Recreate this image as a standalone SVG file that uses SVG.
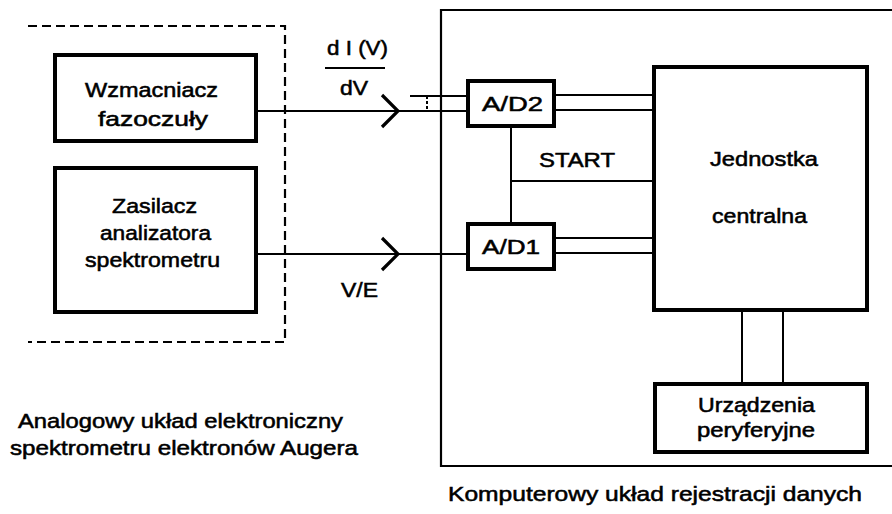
<svg xmlns="http://www.w3.org/2000/svg" width="892" height="514" viewBox="0 0 892 514">
<style>
  text { font-family: "Liberation Sans", Arial, sans-serif; font-size: 21px; fill: #000; stroke: #000; stroke-width: 0.55; }
  .box { fill: none; stroke: #000; stroke-width: 4; }
  .frame { fill: none; stroke: #000; stroke-width: 2.2; }
  .dash { fill: none; stroke: #000; stroke-width: 2.2; stroke-dasharray: 9 5; }
  .wire { fill: none; stroke: #000; stroke-width: 2; }
  .chev { fill: none; stroke: #000; stroke-width: 3.2; stroke-linejoin: miter; }
</style>
<rect width="892" height="514" fill="#fff"/>

<g id="analog-frame">
  <path class="dash" d="M28,26 H285 V342 H28"/>
  <text x="18" y="428" textLength="325" lengthAdjust="spacingAndGlyphs">Analogowy układ elektroniczny</text>
  <text x="10" y="455" textLength="348" lengthAdjust="spacingAndGlyphs">spektrometru elektronów Augera</text>
</g>

<g id="computer-frame">
  <path class="frame" d="M892,10 H441 V466 H892"/>
  <text x="448" y="501" textLength="414" lengthAdjust="spacingAndGlyphs">Komputerowy układ rejestracji danych</text>
</g>

<g id="wzmacniacz">
  <rect class="box" x="55" y="55" width="201" height="86"/>
  <text x="85" y="97" textLength="133" lengthAdjust="spacingAndGlyphs">Wzmacniacz</text>
  <text x="98" y="126" textLength="110" lengthAdjust="spacingAndGlyphs">fazoczuły</text>
</g>

<g id="zasilacz">
  <rect class="box" x="55" y="168" width="201" height="144"/>
  <text x="112" y="213" textLength="85" lengthAdjust="spacingAndGlyphs">Zasilacz</text>
  <text x="100" y="240" textLength="111" lengthAdjust="spacingAndGlyphs">analizatora</text>
  <text x="85" y="267" textLength="135" lengthAdjust="spacingAndGlyphs">spektrometru</text>
</g>

<g id="ad2">
  <rect class="box" x="468" y="81" width="86" height="45"/>
  <text x="482" y="111" textLength="61" lengthAdjust="spacingAndGlyphs">A/D2</text>
</g>

<g id="ad1">
  <rect class="box" x="468" y="224" width="86" height="45"/>
  <text x="482" y="254" textLength="58" lengthAdjust="spacingAndGlyphs">A/D1</text>
</g>

<g id="jednostka">
  <rect class="box" x="654" y="67" width="213" height="243"/>
  <text x="710" y="166" textLength="108" lengthAdjust="spacingAndGlyphs">Jednostka</text>
  <text x="712" y="223" textLength="95" lengthAdjust="spacingAndGlyphs">centralna</text>
</g>

<g id="urzadzenia">
  <rect class="box" x="655" y="384" width="212" height="68"/>
  <text x="698" y="412" textLength="117" lengthAdjust="spacingAndGlyphs">Urządzenia</text>
  <text x="697" y="437" textLength="118" lengthAdjust="spacingAndGlyphs">peryferyjne</text>
</g>

<g id="connectors">
  <line class="wire" x1="257" y1="111" x2="468" y2="111"/>
  <line class="wire" x1="410" y1="96" x2="468" y2="96"/>
  <line class="wire" x1="427" y1="96" x2="427" y2="111" stroke-dasharray="3 2" stroke-width="1.5"/>
  <path class="chev" d="M382,95 L398,111 L382,127"/>
  <line class="wire" x1="257" y1="254" x2="468" y2="254"/>
  <path class="chev" d="M382,238 L398,254 L382,270"/>
  <line class="wire" x1="554" y1="95" x2="654" y2="95"/>
  <line class="wire" x1="554" y1="110" x2="654" y2="110"/>
  <line class="wire" x1="554" y1="238" x2="654" y2="238"/>
  <line class="wire" x1="554" y1="253" x2="654" y2="253"/>
  <line class="wire" x1="511" y1="126" x2="511" y2="224"/>
  <line class="wire" x1="511" y1="181" x2="654" y2="181"/>
  <line class="wire" x1="742" y1="310" x2="742" y2="384"/>
  <line class="wire" x1="783" y1="310" x2="783" y2="384"/>
  <line class="wire" x1="325" y1="68" x2="385" y2="68"/>
  <text x="327" y="55" textLength="61" lengthAdjust="spacingAndGlyphs">d I (V)</text>
  <text x="340" y="95" textLength="28" lengthAdjust="spacingAndGlyphs">dV</text>
  <text x="341" y="297" textLength="37" lengthAdjust="spacingAndGlyphs">V/E</text>
  <text x="539" y="167" textLength="76" lengthAdjust="spacingAndGlyphs">START</text>
</g>
</svg>
